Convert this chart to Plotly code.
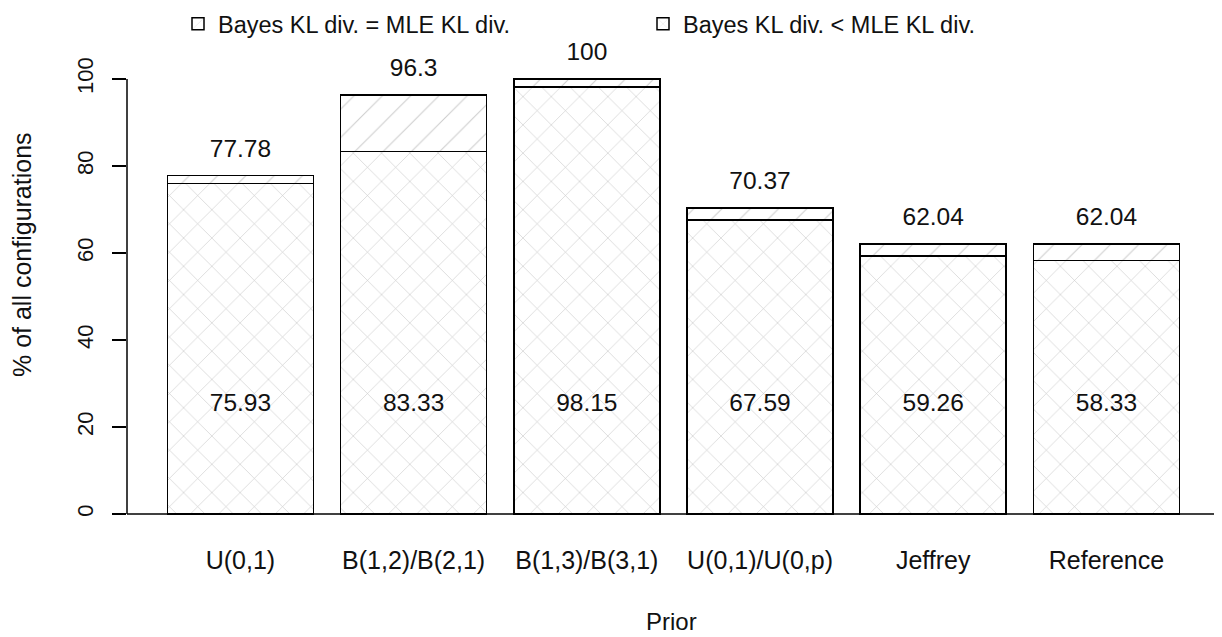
import plotly.graph_objects as go

priors = ["U(0,1)", "B(1,2)/B(2,1)", "B(1,3)/B(3,1)", "U(0,1)/U(0,p)", "Jeffrey", "Reference"]
less_pct = [75.93, 83.33, 98.15, 67.59, 59.26, 58.33]
total_pct = [77.78, 96.30, 100.00, 70.37, 62.04, 62.04]
total_labels = ["77.78", "96.3", "100", "70.37", "62.04", "62.04"]
less_labels = ["75.93", "83.33", "98.15", "67.59", "59.26", "58.33"]
equal_pct = [round(t - l, 2) for t, l in zip(total_pct, less_pct)]
y_ticks = [0, 20, 40, 60, 80, 100]

FONT = "Liberation Sans, Arial, sans-serif"
INK = "#111111"
pos = list(range(len(priors)))

# page has an 8px body margin; layout coordinates are offset accordingly
W, H = 1214, 629
L, R, T, B = 119, 3, 32, 107
PW, PH = W - L - R, H - T - B

fig = go.Figure()
fig.add_trace(go.Bar(
    x=pos, y=less_pct, name="Bayes KL div. < MLE KL div.",
    marker=dict(color="white", line=dict(color="black", width=1.5),
                pattern=dict(shape="x", size=20, solidity=0.06, fgcolor="#c8c8c8", fgopacity=1)),
))
fig.add_trace(go.Bar(
    x=pos, y=equal_pct, name="Bayes KL div. = MLE KL div.",
    marker=dict(color="white", line=dict(color="black", width=1.5),
                pattern=dict(shape="/", size=20, solidity=0.05, fgcolor="#cccccc", fgopacity=1)),
))
fig.add_trace(go.Scatter(
    x=pos, y=[t + 5.8 for t in total_pct], mode="text", text=total_labels,
    textfont=dict(family=FONT, size=24.5, color=INK), showlegend=False, cliponaxis=False,
    hoverinfo="skip",
))
fig.add_trace(go.Scatter(
    x=pos, y=[25] * len(pos), mode="text", text=less_labels,
    textfont=dict(family=FONT, size=24.5, color=INK), showlegend=False, cliponaxis=False,
    hoverinfo="skip",
))

# y axis line (0..100) and baseline
fig.add_shape(type="line", xref="paper", yref="y", x0=0, x1=0, y0=0, y1=100,
              line=dict(color="black", width=1.5))
fig.add_shape(type="line", xref="paper", yref="y", x0=0, x1=1, y0=0, y1=0,
              line=dict(color="black", width=1.5))

fig.update_layout(
    width=W, height=H,
    margin=dict(l=L, r=R, t=T, b=B, autoexpand=False),
    barmode="stack", bargap=0.157,
    plot_bgcolor="white", paper_bgcolor="white",
    font=dict(family=FONT, size=22, color=INK),
    showlegend=True,
    legend=dict(orientation="h", traceorder="reversed", x=(170 - L) / PW, xanchor="left",
                yref="container", y=1 - 16 / H, yanchor="middle",
                entrywidth=420, entrywidthmode="pixels",
                font=dict(family=FONT, size=23.5, color=INK), bgcolor="rgba(0,0,0,0)"),
    xaxis=dict(range=[-0.655, 5.65], tickmode="array", tickvals=pos, ticktext=priors,
               showline=False, showgrid=False, zeroline=False, ticks="",
               ticklabelstandoff=13, automargin=False,
               tickfont=dict(family=FONT, size=25, color=INK)),
    yaxis=dict(range=[-3.68, 108.97], tickmode="array", tickvals=y_ticks,
               showline=False, showgrid=False, zeroline=False,
               ticks="outside", ticklen=14, tickwidth=1.5, tickcolor="black",
               tickangle=-90, ticklabelstandoff=10, automargin=False,
               tickfont=dict(family=FONT, size=22, color=INK)),
    annotations=[
        dict(text="% of all configurations", xref="paper", yref="paper",
             x=(14 - L) / PW, y=(H - B - 247) / PH, textangle=-90, showarrow=False,
             xanchor="center", yanchor="middle", font=dict(family=FONT, size=25, color=INK)),
        dict(text="Prior", xref="paper", yref="paper",
             x=(663 - L) / PW, y=-(613 - (H - B)) / PH, showarrow=False,
             xanchor="center", yanchor="middle", font=dict(family=FONT, size=24, color=INK)),
    ],
)

fig.write_html("out.html")
